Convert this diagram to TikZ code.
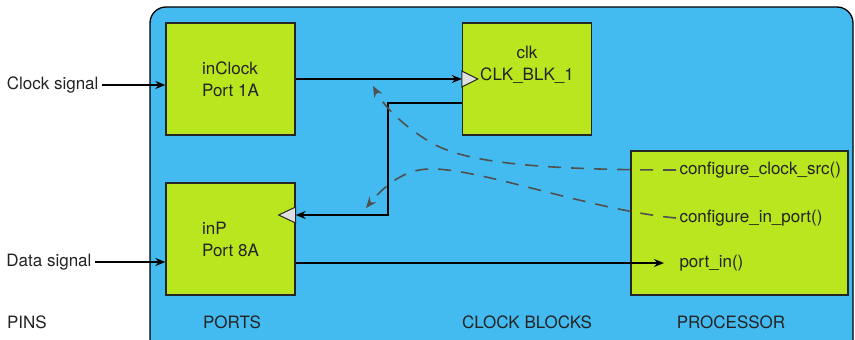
\documentclass[tikz,border=0pt]{standalone}
\usepackage{fontspec}
\setmainfont{TeX Gyre Heros}
\usetikzlibrary{positioning, arrows.meta, calc}
\definecolor{panelblue}{RGB}{68, 187, 240}
\definecolor{blockgreen}{RGB}{185, 230, 30}
\definecolor{dashgray}{RGB}{80, 80, 80}
\definecolor{textdark}{RGB}{35, 35, 35}

\tikzset{
  block/.style={draw=black!85, line width=1.3pt, fill=blockgreen, align=left,
                minimum width=129pt, minimum height=112pt},
  sig/.style={->, line width=1.4pt, >={Stealth[length=10pt, width=8pt]}},
  cfg/.style={->, dashgray, line width=1.6pt, dash pattern=on 13pt off 10pt,
              >={Stealth[length=11pt, width=9pt]}},
  clocktri/.style={draw=black!85, line width=1pt, fill=gray!25}
}

\begin{document}
\begin{tikzpicture}[x=1pt, y=-1pt, font=\fontsize{17}{22}\selectfont, text=textdark]
  \useasboundingbox (0,0) rectangle (855,340);
  \begin{scope}
    \clip (0,0) rectangle (855,340);
    \draw[line width=1.3pt, fill=panelblue, rounded corners=16pt] (150,7) rectangle (853,370);
  \end{scope}

  % blocks
  \node[block] (inClock) at (230.5,79) {inClock\\Port 1A};
  \node[block] (clk) at (527,79) {};
  \node[align=center] (clktxt) at ([yshift=14pt]clk.center) {clk\\CLK\_BLK\_1};
  \node[block] (inP) at (230.5,239) {inP\\Port 8A};
  \node[block, minimum width=217pt, minimum height=144pt] (proc) at (739.5,223) {};
  \node[anchor=west] (clksrc) at (676,170) {configure\_clock\_src()};
  \node[anchor=west] (inport) at (676,218) {configure\_in\_port()};
  \node[anchor=west] (portin) at (676,263) {port\_in()};

  % signals from the pins
  \node[anchor=east] (clocksig) at (102,85) {Clock signal};
  \node[anchor=east] (datasig) at (95,262) {Data signal};
  \draw[sig] (clocksig.east) -- (clocksig.east -| inClock.west);
  \draw[sig] (datasig.east) -- (datasig.east -| inP.west);

  % data paths
  \draw[sig] (inClock.east) -- (clk.west);
  \draw[sig] ([yshift=-24pt]clk.west) -- ++(-74,0) |- ([yshift=24pt]inP.east);
  \draw[sig] ([yshift=-24pt]inP.east) -- ([xshift=-12pt]portin.west);

  % clock inputs
  \draw[clocktri] (clk.west) ++(0,-8) -- ++(16,8) -- ++(-16,8) -- cycle;
  \draw[clocktri] ([yshift=24pt]inP.east) ++(0,-8) -- ++(-17,8) -- ++(17,8) -- cycle;

  % configuration calls
  \coordinate (clkhint) at (373,86);
  \coordinate (porthint) at (366,208);
  \draw[cfg] (clksrc.west) .. controls (520,170) and (460,160) .. (430,142)
             .. controls (405,127) and (385,108) .. (clkhint);
  \draw[cfg] (inport.west) .. controls (590,210) and (480,168) .. (430,169)
             .. controls (405,169) and (385,185) .. (porthint);

  % section titles
  \foreach \name/\txt/\x in {pins/PINS/27, ports/PORTS/232, clkblk/CLOCK BLOCKS/527, cpu/PROCESSOR/731}
    \node (\name) at (\x,322) {\txt};
\end{tikzpicture}
\end{document}
